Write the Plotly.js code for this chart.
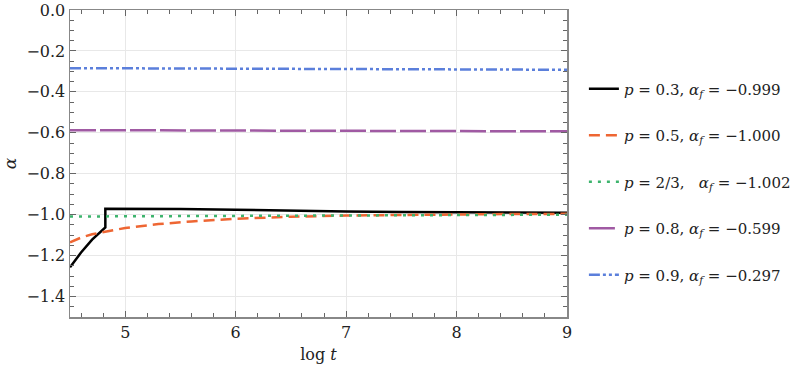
<!DOCTYPE html>
<html><head><meta charset="utf-8">
<script src="https://cdn.plot.ly/plotly-3.0.1.min.js"></script>
<style>html,body{margin:0;padding:0;background:#fff;}#chart{width:793px;height:371px;}</style>
</head><body><div id="chart"></div>
<script>
// log t values and alpha values for each p
const x03 = [4.5, 4.6, 4.7, 4.8, 4.82, 4.82, 5.0, 5.5, 6.0, 6.5, 7.0, 7.5, 8.0, 8.5, 9.0];
const y03 = [-1.257, -1.185, -1.122, -1.068, -1.062, -0.971, -0.971, -0.972, -0.976, -0.981, -0.985, -0.987, -0.989, -0.990, -0.991];
const x05 = [4.5, 4.6, 4.7, 4.82, 5.0, 5.3, 5.6, 6.0, 6.5, 7.0, 7.5, 8.0, 8.5, 9.0];
const y05 = [-1.135, -1.112, -1.096, -1.084, -1.065, -1.046, -1.033, -1.020, -1.010, -1.004, -1.001, -0.999, -0.997, -0.996];
const x23 = [4.5, 5.0, 6.0, 7.0, 8.0, 9.0];
const y23 = [-1.009, -1.008, -1.006, -1.003, -1.001, -1.000];
const x08 = [4.5, 5.0, 6.0, 7.0, 8.0, 9.0];
const y08 = [-0.587, -0.588, -0.589, -0.591, -0.592, -0.593];
const x09 = [4.5, 5.0, 6.0, 7.0, 8.0, 9.0];
const y09 = [-0.284, -0.285, -0.287, -0.289, -0.291, -0.292];
const names = [
  '<i>p</i> = 0.3, <i>α<sub>f</sub></i> = −0.999',
  '<i>p</i> = 0.5, <i>α<sub>f</sub></i> = −1.000',
  '<i>p</i> = 2/3,   <i>α<sub>f</sub></i> = −1.002',
  '<i>p</i> = 0.8, <i>α<sub>f</sub></i> = −0.599',
  '<i>p</i> = 0.9, <i>α<sub>f</sub></i> = −0.297'
];
const xTicks = [5, 6, 7, 8, 9];

const FONT = 'DejaVu Serif';

const traces = [
  {x: x03, y: y03, name: names[0], line: {color: '#000000', width: 2.5}},
  {x: x05, y: y05, name: names[1], line: {color: '#EE6633', width: 2.5, dash: '11px,6px'}},
  {x: x23, y: y23, name: names[2], line: {color: '#3DB46D', width: 2.5, dash: '3px,6px'}},
  {x: x08, y: y08, name: names[3], line: {color: '#A05AA3', width: 2.5, dash: '26px,4px'}},
  {x: x09, y: y09, name: names[4], line: {color: '#5B7FDB', width: 2.5, dash: '11px,3px,3px,3px,3px,3px'}}
].map((t, i) => Object.assign({type: 'scatter', mode: 'lines', legendgroup: 'g' + i}, t));

const axisCommon = {
  showline: true, linecolor: '#888888', linewidth: 1.5, mirror: 'ticks',
  ticks: 'inside', ticklen: 6, tickcolor: '#666666', tickwidth: 1,
  showgrid: true, gridcolor: '#e8e8e8', gridwidth: 1, zeroline: false,
  tickfont: {family: FONT, size: 16, color: '#222'}
};

const layout = {
  width: 793, height: 371,
  margin: {l: 70, r: 226, t: 10, b: 54, autoexpand: false},
  paper_bgcolor: '#fff', plot_bgcolor: '#fff',
  font: {family: FONT, color: '#222'},
  xaxis: Object.assign({}, axisCommon, {
    range: [4.5, 9], tickvals: xTicks, ticktext: xTicks.map(String),
    minor: {dtick: 0.2, tick0: 0, ticks: 'inside', ticklen: 4, tickcolor: '#666666', showgrid: false},
    title: {text: 'log <i>t</i>', font: {family: FONT, size: 16}, standoff: 8}
  }),
  yaxis: Object.assign({}, axisCommon, {
    range: [-1.5, 0], dtick: 0.2, tick0: 0, tickformat: '.1f',
    minor: {dtick: 0.05, tick0: 0, ticks: 'inside', ticklen: 4, tickcolor: '#666666', showgrid: false},
    title: {text: '<i>α</i>', font: {family: FONT, size: 17}, standoff: 8}
  }),
  legend: {
    x: 1.034, xanchor: 'left', y: 0.44, yanchor: 'middle',
    font: {family: FONT, size: 15, color: '#222'},
    tracegroupgap: 24, traceorder: 'grouped', bgcolor: 'rgba(0,0,0,0)'
  },
  showlegend: true
};

Plotly.newPlot('chart', traces, layout, {staticPlot: true, displayModeBar: false});
</script></body></html>
